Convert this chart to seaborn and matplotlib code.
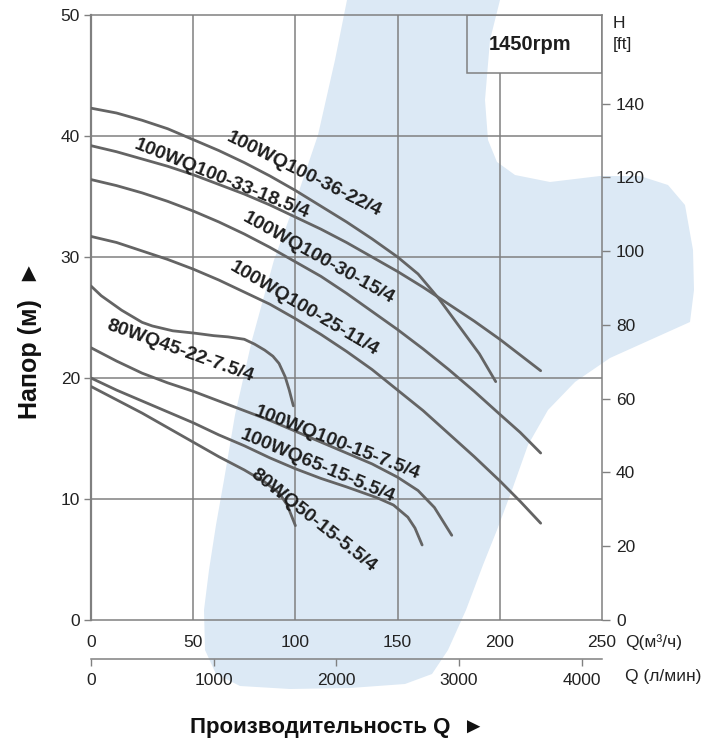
import matplotlib
matplotlib.use("Agg")
import matplotlib.pyplot as plt
from matplotlib.patches import Polygon, Rectangle
import numpy as np
import pandas as pd
import seaborn as sns

# ---------------- data ----------------
models = ["100WQ100-36-22/4", "100WQ100-33-18.5/4", "100WQ100-30-15/4",
          "100WQ100-25-11/4", "80WQ45-22-7.5/4", "100WQ100-15-7.5/4",
          "100WQ65-15-5.5/4", "80WQ50-15-5.5/4"]

q_36 = [0, 12.5, 25, 37.5, 50, 62.5, 75, 87.5, 100, 112.5, 125, 137.5, 150,
        160, 170, 180, 190, 198]
h_36 = [42.3, 41.9, 41.3, 40.6, 39.7, 38.8, 37.8, 36.7, 35.5, 34.2, 32.9, 31.5,
        30.0, 28.6, 26.6, 24.3, 22.0, 19.7]

q_33 = [0, 12.5, 25, 37.5, 50, 62.5, 75, 87.5, 100, 112.5, 125, 137.5, 150,
        162.5, 175, 187.5, 200, 210, 220]
h_33 = [39.2, 38.7, 38.1, 37.5, 36.8, 36.0, 35.2, 34.3, 33.3, 32.3, 31.2, 30.0,
        28.8, 27.5, 26.1, 24.7, 23.2, 21.9, 20.6]

q_30 = [0, 12.5, 25, 37.5, 50, 62.5, 75, 87.5, 100, 112.5, 125, 137.5, 150,
        162.5, 175, 187.5, 200, 210, 220]
h_30 = [36.4, 35.9, 35.3, 34.6, 33.8, 32.9, 31.9, 30.8, 29.6, 28.4, 27.0, 25.5,
        24.0, 22.4, 20.7, 18.9, 17.0, 15.5, 13.8]

q_25 = [0, 12.5, 25, 37.5, 50, 62.5, 75, 87.5, 100, 112.5, 125, 137.5, 150,
        162.5, 175, 187.5, 200, 210, 220]
h_25 = [31.7, 31.2, 30.5, 29.8, 29.0, 28.1, 27.1, 26.1, 24.9, 23.6, 22.2, 20.7,
        19.0, 17.3, 15.4, 13.5, 11.5, 9.8, 8.0]

q_45 = [0, 5, 10, 15, 20, 25, 30, 40, 51, 60, 67, 75, 80, 85, 89, 92, 95, 97, 99]
h_45 = [27.6, 26.8, 26.2, 25.6, 25.1, 24.6, 24.3, 23.9, 23.7, 23.5, 23.4, 23.2,
        22.8, 22.3, 21.8, 21.2, 20.1, 19.0, 17.7]

q_15 = [0, 12.5, 25, 37.5, 50, 62.5, 75, 87.5, 100, 112.5, 125, 137.5, 150,
        160, 168, 176.5]
h_15 = [22.5, 21.4, 20.4, 19.6, 18.9, 18.1, 17.3, 16.5, 15.6, 14.7, 13.8, 12.9,
        11.8, 10.7, 9.3, 7.0]

q_65 = [0, 12.5, 25, 37.5, 50, 62.5, 75, 87.5, 100, 112.5, 125, 140, 148, 155,
        158.5, 162]
h_65 = [20.0, 19.0, 18.1, 17.2, 16.3, 15.3, 14.4, 13.4, 12.5, 11.7, 11.0, 10.1,
        9.5, 8.5, 7.6, 6.2]

q_50 = [0, 12.5, 25, 37.5, 50, 62.5, 75, 85, 92, 96, 100]
h_50 = [19.3, 18.2, 17.1, 15.9, 14.7, 13.5, 12.4, 11.4, 10.5, 9.5, 7.8]

curves_q = [q_36, q_33, q_30, q_25, q_45, q_15, q_65, q_50]
curves_h = [h_36, h_33, h_30, h_25, h_45, h_15, h_65, h_50]

x_ticks = [0, 50, 100, 150, 200, 250]
y_ticks = [0, 10, 20, 30, 40, 50]
ft_ticks = [0, 20, 40, 60, 80, 100, 120, 140]
lmin_ticks = [0, 1000, 2000, 3000, 4000]
M_TO_FT = 3.281

# ---------------- layout (label placement, not data) ----------------
label_pos = [(104, 36.8, -26.5), (63.8, 36.4, -22.0), (111.2, 29.9, -29.2),
             (104.1, 25.7, -30.6), (43.7, 22.2, -19.7), (120.2, 14.6, -21.3),
             (110.9, 12.7, -22.7), (108.7, 8.2, -38.4)]

sns.set_theme(style="white")
plt.rcParams['font.family'] = ['Liberation Sans', 'DejaVu Sans']

W, H = 707, 742
fig = plt.figure(figsize=(W / 100, H / 100), dpi=100, facecolor='white')

# light watermark blob in the background
blob_px = [(347, 0), (500, 0), (490, 40), (485, 100), (488, 140), (497, 162),
           (515, 175), (550, 182), (600, 176), (640, 176), (668, 185), (685, 205),
           (693, 250), (694, 290), (690, 322), (650, 340), (610, 358), (575, 382),
           (548, 410), (528, 445), (512, 490), (497, 530), (483, 565), (466, 610),
           (448, 650), (432, 674), (405, 684), (350, 688), (290, 689), (240, 686),
           (216, 674), (205, 650), (204, 610), (209, 570), (216, 525), (224, 480),
           (235, 415), (252, 340), (274, 260), (296, 200), (318, 135), (335, 60)]
blob = Polygon([(x / W, 1 - y / H) for x, y in blob_px], closed=True,
               transform=fig.transFigure, facecolor='#dce9f5', edgecolor='none',
               zorder=-5)
fig.add_artist(blob)

ax = fig.add_axes([91 / W, 1 - 620 / H, (602 - 91) / W, (620 - 15) / H])
ax.set_facecolor('none')

gc = '#808080'
curve_color = '#646464'

df = pd.concat([pd.DataFrame({'Q': q, 'H': h, 'model': m})
                for q, h, m in zip(curves_q, curves_h, models)], ignore_index=True)
sns.lineplot(data=df, x='Q', y='H', hue='model', palette={m: curve_color for m in models},
             estimator=None, sort=False, legend=False, linewidth=2.0, ax=ax, zorder=3)

ax.set_xlim(0, 250)
ax.set_ylim(0, 50)
ax.set_xlabel('')
ax.set_ylabel('')
ax.set_xticks(x_ticks)
ax.set_yticks(y_ticks)

box_q0, box_h0 = 183.8, 45.2
ax.vlines(x_ticks[1:-1], 0, [50, 50, 50, box_h0], colors=gc, linewidth=1.1, zorder=1)
ax.hlines(y_ticks[1:-1], 0, 250, colors=gc, linewidth=1.1, zorder=1)
for s in ax.spines.values():
    s.set_color(gc)
    s.set_linewidth(1.1)
ax.spines['left'].set_linewidth(1.6)

ax.add_patch(Rectangle((box_q0, box_h0), 250 - box_q0, 50 - box_h0, fill=False,
                       edgecolor=gc, linewidth=1.1, zorder=2))
ax.text(215, 47.6, "1450rpm", ha='center', va='center', fontsize=14.5,
        fontweight='bold', color='#1e1e1e')

ax.tick_params(axis='x', direction='out', length=5, width=1, color=gc, pad=6,
               labelsize=12.5, labelcolor='#222222')
ax.tick_params(axis='y', direction='out', length=5, width=1, color=gc, pad=3,
               labelsize=12.5, labelcolor='#222222')

for (qx, hy, ang), name in zip(label_pos, models):
    ax.text(qx, hy, name, rotation=ang, rotation_mode='anchor', ha='center',
            va='center', fontsize=14, fontweight='bold', color='#1e1e1e', zorder=4)

# right axis in feet
ax2 = ax.twinx()
ax2.set_ylim(0, 50 * M_TO_FT)
ax2.set_yticks(ft_ticks)
for s in ax2.spines.values():
    s.set_visible(False)
ax2.tick_params(axis='y', direction='out', length=6, width=1, color=gc, pad=4,
                labelsize=12.5, labelcolor='#222222')

# second x axis in l/min
sec = ax.secondary_xaxis(-0.064, functions=(lambda q: np.asarray(q) * 1000 / 60,
                                             lambda l: np.asarray(l) * 60 / 1000))
sec.set_xticks(lmin_ticks)
sec.tick_params(axis='x', direction='out', length=5, width=1, color=gc, pad=5,
                labelsize=12.5, labelcolor='#222222')
for s in sec.spines.values():
    s.set_color(gc)
    s.set_linewidth(1.1)

txt_kw = dict(fontsize=12.5, color='#222222', va='center', ha='left')
fig.text(625 / W, 1 - 642 / H, "Q(м³/ч)", **txt_kw)
fig.text(625 / W, 1 - 677 / H, "Q (л/мин)", **txt_kw)
fig.text(613 / W, 1 - 24 / H, "H", **txt_kw)
fig.text(613 / W, 1 - 45 / H, "[ft]", **txt_kw)

fig.text(30 / W, 1 - 340 / H, "Напор (м)  ►", rotation=90, fontsize=18,
         fontweight='bold', ha='center', va='center', color='#111111')
fig.text(337 / W, 1 - 728 / H, "Производительность Q  ►", fontsize=16,
         fontweight='bold', ha='center', va='center', color='#111111')

fig.savefig("out.png", dpi=100, facecolor='white')
